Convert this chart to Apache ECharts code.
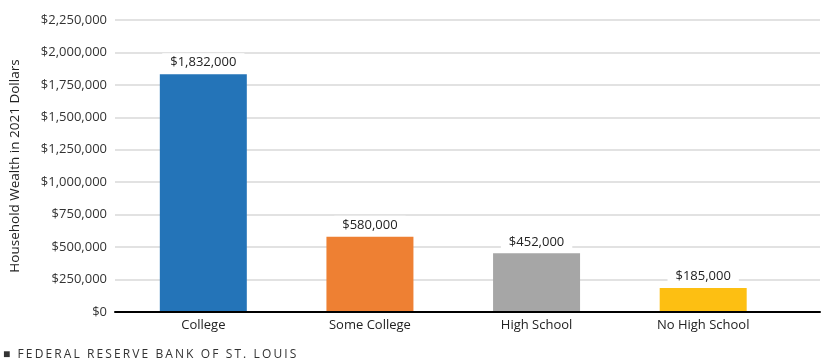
<!DOCTYPE html>
<html><head><meta charset="utf-8">
<script src="https://cdn.jsdelivr.net/npm/echarts@6/dist/echarts.min.js"></script>
<style>
html,body{margin:0;padding:0;background:#fff;}
#c{width:826px;height:364px;position:relative;}
#foot{position:absolute;left:3px;top:345px;font-family:"Open Sans",sans-serif;font-size:12px;letter-spacing:2.1px;color:#333;white-space:nowrap;}
</style></head>
<body>
<div id="c"></div>
<div id="foot">■ FEDERAL RESERVE BANK OF ST. LOUIS</div>
<script>
const categories = ["College", "Some College", "High School", "No High School"];
const values = [1832000, 580000, 452000, 185000];
const colors = ["#2474b8", "#ee8033", "#a6a6a6", "#fdbf12"];
const yTicks = [0, 250000, 500000, 750000, 1000000, 1250000, 1500000, 1750000, 2000000, 2250000];
const yName = "Household Wealth in 2021 Dollars";

const fmt = v => "$" + v.toLocaleString("en-US");
const chart = echarts.init(document.getElementById("c"));
const font = '"Open Sans", sans-serif';
chart.setOption({
  animation: false,
  grid: [
    {left: 106, right: 6, top: 20, bottom: 52},
    {left: 120, right: 39.5, top: 20, bottom: 52}
  ],
  xAxis: [
    {gridIndex: 0, type: "category", data: categories, axisLine: {lineStyle: {color: "#000", width: 2}},
     axisTick: {show: false}, axisLabel: {show: false}, z: 10},
    {gridIndex: 1, type: "category", data: categories, axisLine: {show: false}, axisTick: {show: false},
     axisLabel: {color: "#222", fontSize: 13, fontFamily: font, margin: 7}}
  ],
  yAxis: [
    {gridIndex: 0, type: "value", min: yTicks[0], max: yTicks[yTicks.length - 1], interval: yTicks[1] - yTicks[0],
     name: yName, nameLocation: "middle", nameGap: 93, nameRotate: 90,
     nameTextStyle: {color: "#222", fontSize: 13.5, fontFamily: font},
     axisLine: {show: false}, axisTick: {show: false},
     axisLabel: {color: "#333", fontSize: 13, fontFamily: font, margin: 8, formatter: fmt},
     splitLine: {lineStyle: {color: "#d9d9d9", width: 1.5}}},
    {gridIndex: 1, type: "value", min: yTicks[0], max: yTicks[yTicks.length - 1], interval: yTicks[1] - yTicks[0],
     show: false, splitLine: {show: false}}
  ],
  series: [{
    type: "bar", xAxisIndex: 1, yAxisIndex: 1, barWidth: 87,
    data: values.map((v, i) => ({value: v, itemStyle: {color: colors[i]}})),
    label: {show: true, position: "top", distance: 2, formatter: p => fmt(p.value),
      color: "#222", fontSize: 13, fontFamily: font, backgroundColor: "#fff", padding: [3, 8, 3, 8]}
  }]
});
</script>
</body></html>
